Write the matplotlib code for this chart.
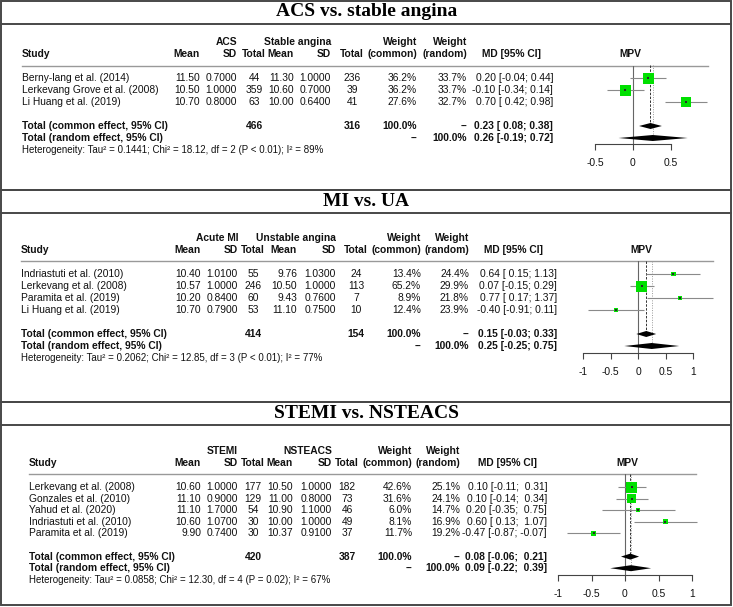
import matplotlib.pyplot as plt
from matplotlib.patches import Rectangle

W, H = 733, 607

plt.rcParams["font.family"] = ["Liberation Sans", "DejaVu Sans"]

# ── data ──────────────────────────────────────────────────────────────────────

P1_TITLE   = "ACS vs. stable angina"
P1_GROUPS  = ["ACS", "Stable angina"]
P1_STUDIES = ["Berny-lang et al. (2014)", "Lerkevang Grove et al. (2008)",
              "Li Huang et al. (2019)"]
P1_MEAN_E  = [11.50, 10.50, 10.70]
P1_SD_E    = [0.7000, 1.0000, 0.8000]
P1_N_E     = [44, 359, 63]
P1_MEAN_C  = [11.30, 10.60, 10.00]
P1_SD_C    = [1.0000, 0.7000, 0.6400]
P1_N_C     = [236, 39, 41]
P1_W_COM   = [36.2, 36.2, 27.6]
P1_W_RAN   = [33.7, 33.7, 32.7]
P1_MD      = [0.20, -0.10, 0.70]
P1_LO      = [-0.04, -0.34, 0.42]
P1_HI      = [0.44, 0.14, 0.98]
P1_COMMON  = [0.23, 0.08, 0.38]
P1_RANDOM  = [0.26, -0.19, 0.72]
P1_TOTALS  = [466, 316]
P1_HET     = "Heterogeneity: Tau² = 0.1441; Chi² = 18.12, df = 2 (P < 0.01); I² = 89%"
P1_TICKS   = [-0.5, 0, 0.5]

P2_TITLE   = "MI vs. UA"
P2_GROUPS  = ["Acute MI", "Unstable angina"]
P2_STUDIES = ["Indriastuti et al. (2010)", "Lerkevang et al. (2008)",
              "Paramita et al. (2019)", "Li Huang et al. (2019)"]
P2_MEAN_E  = [10.40, 10.57, 10.20, 10.70]
P2_SD_E    = [1.0100, 1.0000, 0.8400, 0.7900]
P2_N_E     = [55, 246, 60, 53]
P2_MEAN_C  = [9.76, 10.50, 9.43, 11.10]
P2_SD_C    = [1.0300, 1.0000, 0.7600, 0.7500]
P2_N_C     = [24, 113, 7, 10]
P2_W_COM   = [13.4, 65.2, 8.9, 12.4]
P2_W_RAN   = [24.4, 29.9, 21.8, 23.9]
P2_MD      = [0.64, 0.07, 0.77, -0.40]
P2_LO      = [0.15, -0.15, 0.17, -0.91]
P2_HI      = [1.13, 0.29, 1.37, 0.11]
P2_COMMON  = [0.15, -0.03, 0.33]
P2_RANDOM  = [0.25, -0.25, 0.75]
P2_TOTALS  = [414, 154]
P2_HET     = "Heterogeneity: Tau² = 0.2062; Chi² = 12.85, df = 3 (P < 0.01); I² = 77%"
P2_TICKS   = [-1, -0.5, 0, 0.5, 1]

P3_TITLE   = "STEMI vs. NSTEACS"
P3_GROUPS  = ["STEMI", "NSTEACS"]
P3_STUDIES = ["Lerkevang et al. (2008)", "Gonzales et al. (2010)",
              "Yahud et al. (2020)", "Indriastuti et al. (2010)",
              "Paramita et al. (2019)"]
P3_MEAN_E  = [10.60, 11.10, 11.10, 10.60, 9.90]
P3_SD_E    = [1.0000, 0.9000, 1.7000, 1.0700, 0.7400]
P3_N_E     = [177, 129, 54, 30, 30]
P3_MEAN_C  = [10.50, 11.00, 10.90, 10.00, 10.37]
P3_SD_C    = [1.0000, 0.8000, 1.1000, 1.0000, 0.9100]
P3_N_C     = [182, 73, 46, 49, 37]
P3_W_COM   = [42.6, 31.6, 6.0, 8.1, 11.7]
P3_W_RAN   = [25.1, 24.1, 14.7, 16.9, 19.2]
P3_MD      = [0.10, 0.10, 0.20, 0.60, -0.47]
P3_LO      = [-0.11, -0.14, -0.35, 0.13, -0.87]
P3_HI      = [0.31, 0.34, 0.75, 1.07, -0.07]
P3_COMMON  = [0.08, -0.06, 0.21]
P3_RANDOM  = [0.09, -0.22, 0.39]
P3_TOTALS  = [420, 387]
P3_HET     = "Heterogeneity: Tau² = 0.0858; Chi² = 12.30, df = 4 (P = 0.02); I² = 67%"
P3_TICKS   = [-1, -0.5, 0, 0.5, 1]

# ── layout (pixel positions) ──────────────────────────────────────────────────

LAYOUT = [
    dict(top=1, bottom=190, title_y=12, sep_y=24, hdr1=42, hdr2=54, rule=65.5,
         row0=78, dy=12, axis_y=144, zero=633, scale=76, rule_x=(22, 708),
         cols=dict(study=22, m1=200, s1=237, t1=254, m2=294, s2=331, t2=352,
                   wc=417, wr=467, md=553, mdh=511, mpv=630)),
    dict(top=190, bottom=402, title_y=201, sep_y=213, hdr1=238, hdr2=250, rule=261,
         row0=274, dy=12, axis_y=353, zero=638, scale=55, rule_x=(21, 713),
         cols=dict(study=21, m1=201, s1=238, t1=253, m2=297, s2=336, t2=356,
                   wc=421, wr=469, md=557, mdh=514, mpv=641)),
    dict(top=402, bottom=605, title_y=414, sep_y=425, hdr1=451, hdr2=463, rule=474,
         row0=487, dy=11.6, axis_y=575, zero=625, scale=67, rule_x=(29, 696),
         cols=dict(study=29, m1=201, s1=238, t1=253, m2=293, s2=332, t2=347,
                   wc=412, wr=460, md=547, mdh=507, mpv=627)),
]

PANELS = [
    dict(title=P1_TITLE, groups=P1_GROUPS, studies=P1_STUDIES, mean_e=P1_MEAN_E,
         sd_e=P1_SD_E, n_e=P1_N_E, mean_c=P1_MEAN_C, sd_c=P1_SD_C, n_c=P1_N_C,
         w_com=P1_W_COM, w_ran=P1_W_RAN, md=P1_MD, lo=P1_LO, hi=P1_HI,
         common=P1_COMMON, random=P1_RANDOM, totals=P1_TOTALS, het=P1_HET,
         ticks=P1_TICKS),
    dict(title=P2_TITLE, groups=P2_GROUPS, studies=P2_STUDIES, mean_e=P2_MEAN_E,
         sd_e=P2_SD_E, n_e=P2_N_E, mean_c=P2_MEAN_C, sd_c=P2_SD_C, n_c=P2_N_C,
         w_com=P2_W_COM, w_ran=P2_W_RAN, md=P2_MD, lo=P2_LO, hi=P2_HI,
         common=P2_COMMON, random=P2_RANDOM, totals=P2_TOTALS, het=P2_HET,
         ticks=P2_TICKS),
    dict(title=P3_TITLE, groups=P3_GROUPS, studies=P3_STUDIES, mean_e=P3_MEAN_E,
         sd_e=P3_SD_E, n_e=P3_N_E, mean_c=P3_MEAN_C, sd_c=P3_SD_C, n_c=P3_N_C,
         w_com=P3_W_COM, w_ran=P3_W_RAN, md=P3_MD, lo=P3_LO, hi=P3_HI,
         common=P3_COMMON, random=P3_RANDOM, totals=P3_TOTALS, het=P3_HET,
         ticks=P3_TICKS),
]

FS      = 7.4
FS_HET  = 7.0
GREEN   = "#00e000"
BORDER  = "#484848"
MAX_BOX = 11   # px, side of the largest square

# ── helpers ───────────────────────────────────────────────────────────────────

def fmt_ci(est, lo, hi, wl, wh):
    return f"{est:.2f} [{lo:>{wl}.2f}; {hi:>{wh}.2f}]"

def tick_label(v):
    return f"{v:g}"

# ── draw ──────────────────────────────────────────────────────────────────────

fig  = plt.figure(figsize=(W / 100, H / 100), dpi=100)
base = fig.add_axes([0, 0, 1, 1])
base.set_xlim(0, W)
base.set_ylim(H, 0)
base.axis("off")

def txt(x, y, s, ha="right", bold=False, size=FS):
    base.text(x, y, s, ha=ha, va="center", fontsize=size,
              fontweight="bold" if bold else "normal", color="#111111")

for p, L in zip(PANELS, LAYOUT):
    c = L["cols"]
    n = len(p["studies"])

    # frame + title
    base.add_patch(Rectangle((1, L["top"]), W - 3, L["bottom"] - L["top"],
                             fill=False, ec=BORDER, lw=1.4))
    base.plot([1, W - 2], [L["sep_y"], L["sep_y"]], color=BORDER, lw=1.4)
    base.text(W / 2, L["title_y"], p["title"], ha="center", va="center",
              fontsize=14, fontweight="bold", family="Liberation Serif")

    # headers
    txt(c["s1"], L["hdr1"], p["groups"][0], bold=True)
    txt(c["s2"], L["hdr1"], p["groups"][1], bold=True)
    txt(c["wc"], L["hdr1"], "Weight", bold=True)
    txt(c["wr"], L["hdr1"], "Weight", bold=True)
    txt(c["study"], L["hdr2"], "Study", ha="left", bold=True)
    txt(c["m1"], L["hdr2"], "Mean", bold=True)
    txt(c["s1"], L["hdr2"], "SD", bold=True)
    txt(c["t1"], L["hdr2"], "Total", ha="center", bold=True)
    txt(c["m2"], L["hdr2"], "Mean", bold=True)
    txt(c["s2"], L["hdr2"], "SD", bold=True)
    txt(c["t2"], L["hdr2"], "Total", ha="center", bold=True)
    txt(c["wc"], L["hdr2"], "(common)", bold=True)
    txt(c["wr"], L["hdr2"], "(random)", bold=True)
    txt(c["mdh"], L["hdr2"], "MD [95% CI]", ha="center", bold=True)
    txt(c["mpv"], L["hdr2"], "MPV", ha="center", bold=True)
    base.plot(L["rule_x"], [L["rule"], L["rule"]], color="#999999", lw=1.0)

    lows = p["lo"] + [p["common"][1], p["random"][1]]
    highs = p["hi"] + [p["common"][2], p["random"][2]]
    wl = max(len(f"{v:.2f}") for v in lows)
    wh = max(len(f"{v:.2f}") for v in highs)

    rows = [L["row0"] + i * L["dy"] for i in range(n)]
    y_com = L["row0"] + (n + 1) * L["dy"]
    y_ran = L["row0"] + (n + 2) * L["dy"]
    y_het = L["row0"] + (n + 3) * L["dy"]

    for i, y in enumerate(rows):
        txt(c["study"], y, p["studies"][i], ha="left")
        txt(c["m1"], y, f"{p['mean_e'][i]:.2f}")
        txt(c["s1"], y, f"{p['sd_e'][i]:.4f}")
        txt(c["t1"], y, f"{p['n_e'][i]}", ha="center")
        txt(c["m2"], y, f"{p['mean_c'][i]:.2f}")
        txt(c["s2"], y, f"{p['sd_c'][i]:.4f}")
        txt(c["t2"], y, f"{p['n_c'][i]}", ha="center")
        txt(c["wc"], y, f"{p['w_com'][i]:.1f}%")
        txt(c["wr"], y, f"{p['w_ran'][i]:.1f}%")
        txt(c["md"], y, fmt_ci(p["md"][i], p["lo"][i], p["hi"][i], wl, wh))

    txt(c["study"], y_com, "Total (common effect, 95% CI)", ha="left", bold=True)
    txt(c["t1"], y_com, f"{p['totals'][0]}", ha="center", bold=True)
    txt(c["t2"], y_com, f"{p['totals'][1]}", ha="center", bold=True)
    txt(c["wc"], y_com, "100.0%", bold=True)
    txt(c["wr"], y_com, "--", bold=True)
    txt(c["md"], y_com, fmt_ci(*p["common"], wl, wh), bold=True)

    txt(c["study"], y_ran, "Total (random effect, 95% CI)", ha="left", bold=True)
    txt(c["wc"], y_ran, "--", bold=True)
    txt(c["wr"], y_ran, "100.0%", bold=True)
    txt(c["md"], y_ran, fmt_ci(*p["random"], wl, wh), bold=True)

    txt(c["study"], y_het, p["het"], ha="left", size=FS_HET)

    # forest axes: x in MD units, y in pixel rows
    t0, t1 = p["ticks"][0], p["ticks"][-1]
    left = L["zero"] + t0 * L["scale"]
    right = L["zero"] + t1 * L["scale"]
    ax = fig.add_axes([left / W, 1 - L["axis_y"] / H, (right - left) / W,
                       (L["axis_y"] - L["rule"]) / H])
    ax.set_xlim(t0, t1)
    ax.set_ylim(L["axis_y"], L["rule"])
    ax.patch.set_visible(False)
    for side in ["top", "left", "right"]:
        ax.spines[side].set_visible(False)
    ax.spines["bottom"].set_color("#444444")
    ax.spines["bottom"].set_linewidth(0.8)
    ax.set_yticks([])
    ax.set_xticks(p["ticks"])
    ax.set_xticklabels([tick_label(v) for v in p["ticks"]])
    ax.tick_params(axis="x", direction="out", length=4, width=0.8,
                   color="#444444", labelsize=7.4, pad=6, labelcolor="#111111")

    ax.axvline(0, color="#666666", lw=0.8)
    ax.plot([p["common"][0]] * 2, [L["rule"], y_com], color="#333333",
            lw=0.7, ls=(0, (2.5, 1.5)), clip_on=False)
    ax.plot([p["random"][0]] * 2, [L["rule"], y_ran], color="#9a9a9a",
            lw=0.7, ls=(0, (1, 1.5)), clip_on=False)

    ax.hlines(rows, p["lo"], p["hi"], color="#8a8a8a", lw=0.8, clip_on=False,
              zorder=2)
    wmax = max(p["w_com"])
    sizes = [(MAX_BOX * (w / wmax) ** 0.5 * 0.72) ** 2 for w in p["w_com"]]
    ax.scatter(p["md"], rows, marker="s", s=sizes, color=GREEN, linewidths=0,
               zorder=3, clip_on=False)
    ax.scatter(p["md"], rows, marker="s", s=1.2, color="#2a2a2a", linewidths=0,
               zorder=4, clip_on=False)

    for (est, lo, hi), y in [(p["common"], y_com), (p["random"], y_ran)]:
        ax.fill([lo, est, hi, est], [y, y - 3, y, y + 3], color="black",
                lw=0, clip_on=False, zorder=3)

fig.savefig("out.png", dpi=100)
